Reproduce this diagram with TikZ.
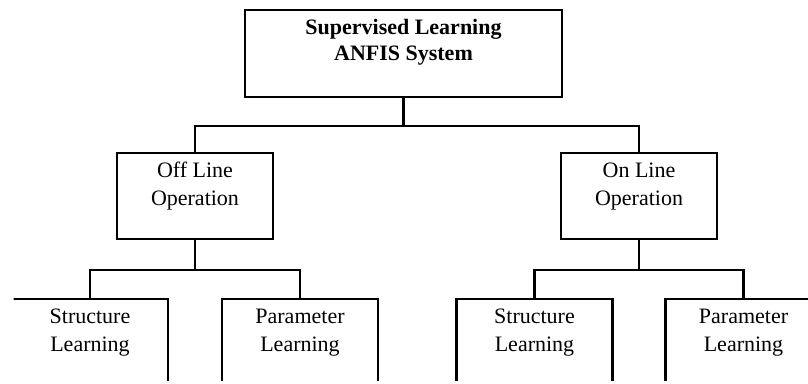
\documentclass[tikz,border=0pt]{standalone}
\usepackage{fontspec}
\setmainfont{Liberation Serif}
\newcommand{\mybx}[4]{\parbox[c][#2][t]{#1}{\centering\fontsize{22}{#3}\selectfont\rule{0pt}{24pt}#4}}
\begin{document}
\begin{tikzpicture}[x=1pt,y=-1pt,
  box/.style={draw, line width=2.1pt, inner sep=0pt, outer sep=0pt},
  link/.style={line width=2.1pt}]
\useasboundingbox (0,0) rectangle (808,383);
\begin{scope}
\clip (13.5,0) rectangle (808,380);
\node[box] (top) at (403.5,53.5) {\mybx{317pt}{87pt}{26pt}{\bfseries Supervised Learning\\ANFIS System}};
\node[box] (off) at (195,196) {\mybx{156pt}{86pt}{28pt}{Off Line\\Operation}};
\node[box] (on) at (639,196) {\mybx{156pt}{86pt}{28pt}{On Line\\Operation}};
\node[box] (s1) at (90,349) {\mybx{156pt}{100pt}{28pt}{Structure\\Learning}};
\node[box] (p1) at (300,349) {\mybx{156pt}{100pt}{28pt}{Parameter\\Learning}};
\node[box] (s2) at (534.5,349) {\mybx{156pt}{100pt}{28pt}{Structure\\Learning}};
\node[box] (p2) at (743.5,349) {\mybx{156pt}{100pt}{28pt}{Parameter\\Learning}};
\coordinate (j1) at (403.5,126);
\coordinate (j2) at (195,270);
\coordinate (j3) at (639,270);
\draw[link] (top.south) -- (j1);
\draw[link] (off.north) |- (j1) -| (on.north);
\draw[link] (off.south) -- (j2);
\draw[link] (s1.north) |- (j2) -| (p1.north);
\draw[link] (on.south) -- (j3);
\draw[link] (s2.north) |- (j3) -| (p2.north);
\end{scope}
\end{tikzpicture}
\end{document}
